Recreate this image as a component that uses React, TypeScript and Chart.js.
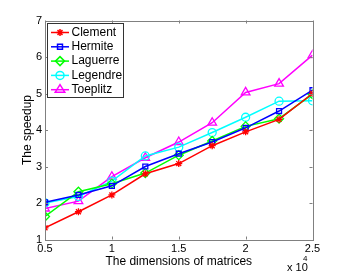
import React, { useEffect, useRef } from "react";
import { Chart, registerables } from "chart.js";

Chart.register(...registerables);

// Matrix dimensions in units of 10^4
const dims = [0.5, 0.75, 1, 1.25, 1.5, 1.75, 2, 2.25, 2.5];
const xTicks = [0.5, 1, 1.5, 2, 2.5];
const yTicks = [1, 2, 3, 4, 5, 6, 7];

const clement = [1.32, 1.76, 2.22, 2.8, 3.08, 3.57, 3.95, 4.29, 5.0];
const hermite = [2.02, 2.22, 2.47, 3.0, 3.35, 3.67, 4.06, 4.52, 5.09];
const laguerre = [1.63, 2.31, 2.53, 2.82, 3.31, 3.7, 4.1, 4.31, 4.98];
const legendre = [2.0, 2.18, 2.6, 3.29, 3.53, 3.93, 4.35, 4.79, 4.8];
const toeplitz = [1.85, 2.05, 2.72, 3.24, 3.67, 4.2, 5.03, 5.27, 6.05];

const seriesNames = ["Clement", "Hermite", "Laguerre", "Legendre", "Toeplitz"];
const seriesValues = [clement, hermite, laguerre, legendre, toeplitz];
const seriesColors = ["#ff0000", "#0000ff", "#00ff00", "#00ffff", "#ff00ff"];
const seriesMarkers = ["star", "rect", "rectRot", "circle", "triangle"];
const markerRadius = [3.5, 3.5, 4.5, 4, 5];

const FONT = "Liberation Sans, Arial, Helvetica, sans-serif";
const AXIS_COLOR = "#808080";

function drawMarker(ctx: CanvasRenderingContext2D, style: string, x: number, y: number, r: number) {
  ctx.beginPath();
  if (style === "star") {
    ctx.moveTo(x - r, y); ctx.lineTo(x + r, y);
    ctx.moveTo(x, y - r); ctx.lineTo(x, y + r);
    const d = r * 0.7071;
    ctx.moveTo(x - d, y - d); ctx.lineTo(x + d, y + d);
    ctx.moveTo(x - d, y + d); ctx.lineTo(x + d, y - d);
  } else if (style === "rect") {
    const s = r * 0.7071;
    ctx.rect(x - s, y - s, 2 * s, 2 * s);
  } else if (style === "rectRot") {
    ctx.moveTo(x, y - r); ctx.lineTo(x + r, y); ctx.lineTo(x, y + r); ctx.lineTo(x - r, y); ctx.closePath();
  } else if (style === "circle") {
    ctx.arc(x, y, r, 0, Math.PI * 2);
  } else if (style === "triangle") {
    const h = r * 1.5;
    const w = r * 0.866;
    ctx.moveTo(x, y - r); ctx.lineTo(x + w * 1.1, y + r * 0.5); ctx.lineTo(x - w * 1.1, y + r * 0.5); ctx.closePath();
    void h;
  }
  ctx.stroke();
}

const framePlugin = {
  id: "matlabFrame",
  afterDraw(chart: any) {
    const ctx: CanvasRenderingContext2D = chart.ctx;
    const { left, right, top, bottom } = chart.chartArea;
    const xs = chart.scales.x;
    const ys = chart.scales.y;
    ctx.save();
    // box
    ctx.strokeStyle = AXIS_COLOR;
    ctx.lineWidth = 1;
    ctx.strokeRect(Math.round(left) + 0.5, Math.round(top) + 0.5, Math.round(right - left), Math.round(bottom - top));
    // inward ticks on all sides
    const tl = 3;
    ctx.beginPath();
    xTicks.forEach((v) => {
      const px = Math.round(xs.getPixelForValue(v)) + 0.5;
      ctx.moveTo(px, bottom); ctx.lineTo(px, bottom - tl);
      ctx.moveTo(px, top); ctx.lineTo(px, top + tl);
    });
    yTicks.forEach((v) => {
      const py = Math.round(ys.getPixelForValue(v)) + 0.5;
      ctx.moveTo(left, py); ctx.lineTo(left + tl, py);
      ctx.moveTo(right, py); ctx.lineTo(right - tl, py);
    });
    ctx.stroke();

    // exponent label
    ctx.fillStyle = "#000";
    ctx.textBaseline = "middle";
    ctx.textAlign = "left";
    ctx.font = `11px ${FONT}`;
    ctx.fillText("x 10", 287, 268);
    ctx.font = `8px ${FONT}`;
    ctx.fillText("4", 303, 259);

    // legend
    const lx = 47, ly = 23, lw = 76, lh = 74;
    ctx.fillStyle = "#ffffff";
    ctx.fillRect(lx, ly, lw, lh);
    ctx.strokeStyle = "#333333";
    ctx.lineWidth = 1;
    ctx.strokeRect(lx + 0.5, ly + 0.5, lw, lh);
    ctx.font = `12px ${FONT}`;
    seriesNames.forEach((name, i) => {
      const y = 32.5 + i * 14.3;
      ctx.strokeStyle = seriesColors[i];
      ctx.lineWidth = 1.5;
      ctx.beginPath();
      ctx.moveTo(51, y); ctx.lineTo(69, y);
      ctx.stroke();
      drawMarker(ctx, seriesMarkers[i], 60, y, markerRadius[i]);
      ctx.fillStyle = "#000";
      ctx.fillText(name, 71.5, y);
    });
    ctx.restore();
  },
};

export default function App() {
  const canvasRef = useRef<HTMLCanvasElement | null>(null);

  useEffect(() => {
    document.body.style.margin = "0";
    const canvas = canvasRef.current;
    if (!canvas) return;
    const chart = new Chart(canvas, {
      type: "line",
      data: {
        datasets: seriesNames.map((name, i) => ({
          label: name,
          data: dims.map((d, j) => ({ x: d, y: seriesValues[i][j] })),
          borderColor: seriesColors[i],
          backgroundColor: "rgba(0,0,0,0)",
          borderWidth: 1.5,
          pointStyle: seriesMarkers[i] as any,
          pointRadius: markerRadius[i],
          pointBorderWidth: 1.3,
          pointBorderColor: seriesColors[i],
          pointBackgroundColor: "rgba(0,0,0,0)",
          tension: 0,
          fill: false,
        })),
      },
      options: {
        animation: false,
        responsive: true,
        maintainAspectRatio: false,
        layout: { padding: { top: 20.5, right: 33.5, bottom: 0, left: 0 } },
        plugins: {
          legend: { display: false },
          tooltip: { enabled: false },
        },
        scales: {
          x: {
            type: "linear",
            min: 0.5,
            max: 2.5,
            afterFit: (s: any) => { s.height = 37.5; },
            afterBuildTicks: (s: any) => { s.ticks = xTicks.map((v) => ({ value: v })); },
            grid: { display: false, drawTicks: false },
            border: { display: false },
            ticks: {
              padding: 3,
              color: "#000",
              font: { family: FONT, size: 11 },
              maxRotation: 0,
              callback: (v: any) => String(v),
            },
            title: {
              display: true,
              text: "The dimensions of matrices",
              color: "#000",
              font: { family: FONT, size: 12 },
              padding: { top: 0, bottom: 8 },
            },
          },
          y: {
            type: "linear",
            min: 1,
            max: 7,
            afterFit: (s: any) => { s.width = 45; },
            afterBuildTicks: (s: any) => { s.ticks = yTicks.map((v) => ({ value: v })); },
            grid: { display: false, drawTicks: false },
            border: { display: false },
            ticks: {
              padding: 3,
              color: "#000",
              font: { family: FONT, size: 11 },
              callback: (v: any) => String(v),
            },
            title: {
              display: true,
              text: "The speedup",
              color: "#000",
              font: { family: FONT, size: 12 },
              padding: { top: 20, bottom: 0 },
            },
          },
        },
      },
      plugins: [framePlugin],
    });
    return () => chart.destroy();
  }, []);

  return (
    <div style={{ position: "absolute", left: 0, top: 0, width: 346, height: 277, background: "#fff" }}>
      <canvas ref={canvasRef} />
    </div>
  );
}
